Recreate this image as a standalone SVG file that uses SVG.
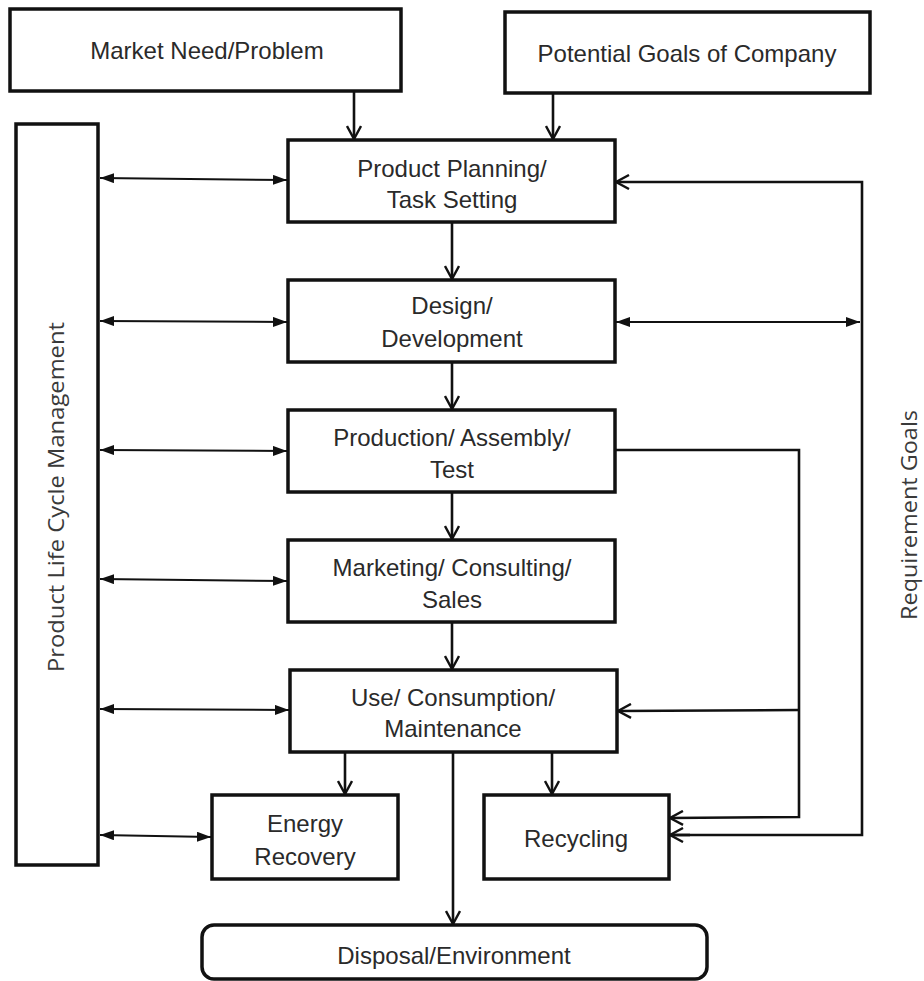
<svg xmlns="http://www.w3.org/2000/svg" width="924" height="981" viewBox="0 0 924 981">
  <defs>
    <style>
      .box { fill: #ffffff; stroke: #111111; stroke-width: 3.5; }
      .lbl { font-family: "Liberation Sans", Arial, sans-serif; font-size: 24px; fill: #2a2a2a; text-anchor: middle; }
      .side { font-family: "Open Sans", "DejaVu Sans", sans-serif; font-size: 21px; fill: #3a3a3a; text-anchor: middle; }
      .conn { fill: none; stroke: #111111; stroke-width: 2; }
      .flow { fill: none; stroke: #111111; stroke-width: 2.6; }
    </style>
    <!-- solid triangular head for two-way links -->
    <marker id="tri" viewBox="0 0 14 10" refX="14" refY="5" markerWidth="14" markerHeight="10" markerUnits="userSpaceOnUse" orient="auto-start-reverse">
      <path d="M0,0 L14,5 L0,10 Z" fill="#111111"/>
    </marker>
    <!-- open chevron head for flow links -->
    <marker id="vee" viewBox="0 0 16 16" refX="14" refY="8" markerWidth="16" markerHeight="16" markerUnits="userSpaceOnUse" orient="auto">
      <path d="M1,1 L14,8 L1,15" fill="none" stroke="#111111" stroke-width="2.4"/>
    </marker>
  </defs>

  <rect width="924" height="981" fill="#ffffff"/>

  <g id="connectors">
    <!-- inputs into planning -->
    <line class="flow" x1="354" y1="92" x2="354" y2="139" marker-end="url(#vee)"/>
    <line class="flow" x1="553" y1="94" x2="553" y2="139" marker-end="url(#vee)"/>
    <!-- main flow -->
    <line class="flow" x1="452" y1="222" x2="452" y2="279" marker-end="url(#vee)"/>
    <line class="flow" x1="452" y1="362" x2="452" y2="409" marker-end="url(#vee)"/>
    <line class="flow" x1="452" y1="492" x2="452" y2="539" marker-end="url(#vee)"/>
    <line class="flow" x1="452" y1="622" x2="452" y2="669" marker-end="url(#vee)"/>
    <line class="flow" x1="345" y1="752" x2="345" y2="794" marker-end="url(#vee)"/>
    <line class="flow" x1="552" y1="752" x2="552" y2="794" marker-end="url(#vee)"/>
    <line class="flow" x1="453" y1="752" x2="453" y2="924" marker-end="url(#vee)"/>
    <!-- life cycle management links -->
    <line class="conn" x1="100" y1="178" x2="287" y2="180" marker-start="url(#tri)" marker-end="url(#tri)"/>
    <line class="conn" x1="100" y1="321" x2="287" y2="322" marker-start="url(#tri)" marker-end="url(#tri)"/>
    <line class="conn" x1="100" y1="450" x2="287" y2="451" marker-start="url(#tri)" marker-end="url(#tri)"/>
    <line class="conn" x1="100" y1="579" x2="287" y2="581" marker-start="url(#tri)" marker-end="url(#tri)"/>
    <line class="conn" x1="100" y1="709" x2="289" y2="710" marker-start="url(#tri)" marker-end="url(#tri)"/>
    <line class="conn" x1="100" y1="835" x2="211" y2="837" marker-start="url(#tri)" marker-end="url(#tri)"/>
    <!-- requirement goals loop -->
    <polyline class="flow" points="670,835 862,835 862,182 616,182" marker-end="url(#vee)"/>
    <line class="flow" x1="690" y1="835" x2="670" y2="835" marker-end="url(#vee)"/>
    <line class="conn" x1="616" y1="322" x2="860" y2="322" marker-start="url(#tri)" marker-end="url(#tri)"/>
    <!-- production feedback -->
    <polyline class="flow" points="615,450 799,450 799,817 670,818" marker-end="url(#vee)"/>
    <line class="flow" x1="799" y1="710" x2="618" y2="711" marker-end="url(#vee)"/>
  </g>

  <g id="market-need">
    <rect class="box" x="10" y="9" width="391" height="82"/>
    <text class="lbl" x="207" y="59">Market Need/Problem</text>
  </g>
  <g id="company-goals">
    <rect class="box" x="505" y="12" width="365" height="81"/>
    <text class="lbl" x="687" y="62">Potential Goals of Company</text>
  </g>
  <g id="plm">
    <rect class="box" x="16" y="124" width="82" height="741"/>
    <text class="side" transform="translate(64 497) rotate(-90)" textLength="350" lengthAdjust="spacingAndGlyphs">Product Life Cycle Management</text>
  </g>
  <g id="requirement-goals">
    <text class="side" transform="translate(917 515) rotate(-90)" textLength="210" lengthAdjust="spacingAndGlyphs">Requirement Goals</text>
  </g>
  <g id="planning">
    <rect class="box" x="288" y="140" width="327" height="82"/>
    <text class="lbl" x="452" y="177">Product Planning/</text>
    <text class="lbl" x="452" y="208">Task Setting</text>
  </g>
  <g id="design">
    <rect class="box" x="288" y="280" width="327" height="82"/>
    <text class="lbl" x="452" y="314">Design/</text>
    <text class="lbl" x="452" y="347">Development</text>
  </g>
  <g id="production">
    <rect class="box" x="288" y="410" width="327" height="82"/>
    <text class="lbl" x="452" y="446">Production/ Assembly/</text>
    <text class="lbl" x="452" y="478">Test</text>
  </g>
  <g id="marketing">
    <rect class="box" x="288" y="540" width="327" height="82"/>
    <text class="lbl" x="452" y="576">Marketing/ Consulting/</text>
    <text class="lbl" x="452" y="608">Sales</text>
  </g>
  <g id="use">
    <rect class="box" x="290" y="670" width="327" height="82"/>
    <text class="lbl" x="453" y="706">Use/ Consumption/</text>
    <text class="lbl" x="453" y="737">Maintenance</text>
  </g>
  <g id="energy-recovery">
    <rect class="box" x="212" y="795" width="186" height="84"/>
    <text class="lbl" x="305" y="832">Energy</text>
    <text class="lbl" x="305" y="865">Recovery</text>
  </g>
  <g id="recycling">
    <rect class="box" x="484" y="795" width="185" height="84"/>
    <text class="lbl" x="576" y="847">Recycling</text>
  </g>
  <g id="disposal">
    <rect class="box" x="202" y="925" width="505" height="54" rx="12" ry="12"/>
    <text class="lbl" x="454" y="964">Disposal/Environment</text>
  </g>
</svg>
